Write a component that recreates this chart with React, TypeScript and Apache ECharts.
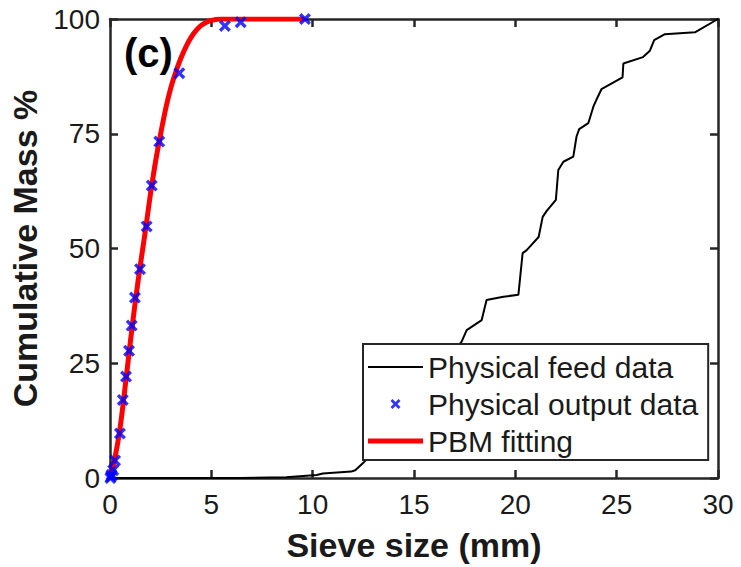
import React, { useEffect, useRef } from "react";
import * as echarts from "echarts";

// Physical feed data (sieve size mm, cumulative mass %)
const feedX = [0, 6.4, 8.7, 10.2, 10.5, 11.9, 12.1, 12.5, 13.5, 14.5, 15.5, 16.5, 17.35, 17.6, 18.34, 18.58, 19.41, 20.15, 20.36, 20.55, 21.15, 21.35, 21.55, 22.0, 22.12, 22.37, 22.86, 23.02, 23.15, 23.6, 23.85, 24.0, 24.25, 25.29, 25.33, 26.3, 26.64, 26.85, 27.38, 28.86, 30];
const feedY = [0, 0, 0.15, 0.65, 1.0, 1.4, 1.7, 3.3, 8, 14, 19, 25, 29.7, 32.2, 34.4, 38.8, 39.5, 39.9, 49.0, 49.6, 52.5, 56.9, 58.2, 60.6, 67.1, 68.9, 70.0, 74.4, 76.0, 77.3, 80.9, 82.4, 84.7, 87.3, 90.3, 91.7, 93.1, 95.4, 96.7, 97.1, 100];

// Physical output data
const outX = [0.02, 0.05, 0.08, 0.16, 0.25, 0.49, 0.63, 0.79, 0.94, 1.07, 1.23, 1.48, 1.81, 2.06, 2.43, 3.42, 5.67, 6.45, 9.62];
const outY = [0, 0.3, 0.7, 1.7, 3.8, 9.7, 17.0, 22.1, 27.7, 33.2, 39.3, 45.5, 54.8, 63.7, 73.3, 88.2, 98.5, 99.3, 100];

// PBM fitting
const fitX = [0, 0.25, 0.5, 0.75, 1.0, 1.25, 1.5, 1.75, 2.0, 2.25, 2.5, 2.75, 3.0, 3.25, 3.5, 3.75, 4.0, 4.25, 4.5, 4.75, 5.0, 5.5, 9.6];
const fitY = [0, 4.5, 11, 20, 29.5, 38.5, 46.5, 54, 62, 69, 75, 80.5, 85, 88.5, 91.5, 94, 96, 97.5, 98.6, 99.3, 99.7, 100, 100];

const seriesNames = ["Physical feed data", "Physical output data", "PBM fitting"];
const xTitle = "Sieve size (mm)";
const yTitle = "Cumulative Mass %";
const panelLabel = "(c)";

const FONT = 'Arial, "Liberation Sans", Helvetica, sans-serif';
const AX = "#262626";
const CROSS = "path://M2,0 L5,3 L8,0 L10,2 L7,5 L10,8 L8,10 L5,7 L2,10 L0,8 L3,5 L0,2 Z";
const THIN_LINE = "path://M0,0 L55,0 L55,2 L0,2 Z";
const THICK_LINE = "path://M0,0 L55,0 L55,5 L0,5 Z";

const zip = (xs: number[], ys: number[]) => xs.map((x, i) => [x, ys[i]]);

export default function App() {
  const ref = useRef<HTMLDivElement>(null);
  useEffect(() => {
    if (!ref.current) return;
    const chart = echarts.init(ref.current, undefined, { renderer: "svg" });
    const axisCommon = {
      axisLine: { show: true, onZero: false, lineStyle: { color: AX, width: 2.5 } },
      axisTick: { show: true, inside: true, length: 8, lineStyle: { color: AX, width: 2.5 } },
      splitLine: { show: false },
    };
    chart.setOption({
      animation: false,
      backgroundColor: "#ffffff",
      grid: { left: 110, right: 23, top: 19, bottom: 89, containLabel: false },
      xAxis: [
        {
          type: "value", min: 0, max: 30, interval: 5, position: "bottom",
          ...axisCommon,
          axisLabel: { color: "#1a1a1a", fontSize: 28, fontFamily: FONT, margin: 12 },
          name: xTitle, nameLocation: "middle", nameGap: 50,
          nameTextStyle: { color: "#1a1a1a", fontSize: 34, fontWeight: "bold", fontFamily: FONT },
        },
        {
          type: "value", min: 0, max: 30, interval: 5, position: "top",
          ...axisCommon, axisLabel: { show: false },
        },
      ],
      yAxis: [
        {
          type: "value", min: 0, max: 100, interval: 25, position: "left",
          ...axisCommon,
          axisLabel: { color: "#1a1a1a", fontSize: 28, fontFamily: FONT, margin: 10 },
          name: yTitle, nameLocation: "middle", nameGap: 68, nameRotate: 90,
          nameTextStyle: { color: "#1a1a1a", fontSize: 34, fontWeight: "bold", fontFamily: FONT },
        },
        {
          type: "value", min: 0, max: 100, interval: 25, position: "right",
          ...axisCommon, axisLabel: { show: false },
        },
      ],
      legend: {
        orient: "vertical",
        left: 363,
        top: 344,
        backgroundColor: "#ffffff",
        borderColor: AX,
        borderWidth: 2,
        borderRadius: 0,
        padding: [7, 10, 3, 5],
        itemWidth: 55,
        itemHeight: 10,
        itemGap: 5,
        textStyle: { color: "#1a1a1a", fontSize: 30, fontFamily: FONT, lineHeight: 32 },
        data: [
          { name: seriesNames[0], icon: THIN_LINE, itemStyle: { color: "#000000" } },
          { name: seriesNames[1], icon: CROSS, itemStyle: { color: "#0000ff" } },
          { name: seriesNames[2], icon: THICK_LINE, itemStyle: { color: "#ff0000" } },
        ],
      },
      graphic: [
        {
          type: "text", left: 124, top: 33, z: 10,
          style: { text: panelLabel, fontSize: 40, fontWeight: "bold", fontFamily: FONT, fill: "#000" },
        },
      ],
      series: [
        {
          name: seriesNames[0], type: "line", data: zip(feedX, feedY),
          showSymbol: false, symbol: "none", z: 2,
          lineStyle: { color: "#000000", width: 2 }, itemStyle: { color: "#000000" },
        },
        {
          name: seriesNames[2], type: "line", data: zip(fitX, fitY),
          showSymbol: false, symbol: "none", z: 3, smooth: 0.3,
          lineStyle: { color: "#ff0000", width: 5 }, itemStyle: { color: "#ff0000" },
        },
        {
          name: seriesNames[1], type: "scatter", data: zip(outX, outY),
          symbol: CROSS, symbolSize: 12, z: 4, clip: false,
          itemStyle: { color: "#0000ff" },
        },
      ],
    });
    return () => chart.dispose();
  }, []);
  return <div ref={ref} style={{ width: 741, height: 567, position: "absolute", left: 0, top: 0 }} />;
}
